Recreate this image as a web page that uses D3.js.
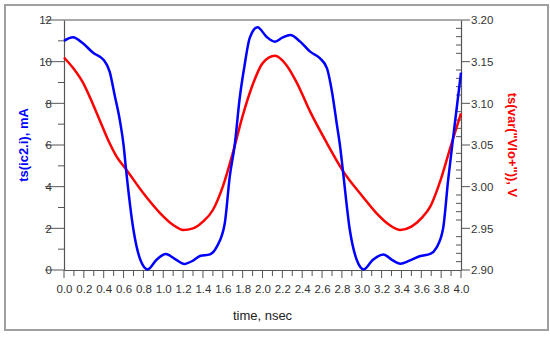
<!DOCTYPE html>
<html>
<head>
<meta charset="utf-8">
<script src="https://cdn.jsdelivr.net/npm/d3@7/dist/d3.min.js"></script>
<style>
html,body{margin:0;padding:0;background:#fff;}
svg{display:block;font-family:"Liberation Sans",Arial,sans-serif;}
</style>
</head>
<body>
<svg id="chart" width="550" height="337"></svg>
<script>
// ---- data ----
const currentTime = [0.00,0.09,0.19,0.30,0.40,0.46,0.51,0.565,0.60,0.625,0.70,0.77,0.843,0.93,1.025,1.12,1.21,1.30,1.37,1.47,1.54,1.62,1.67,1.72,1.77,1.82,1.87,1.95,2.04,2.125,2.20,2.28,2.38,2.48,2.58,2.65,2.70,2.75,2.78,2.81,2.88,2.95,3.02,3.11,3.22,3.30,3.39,3.48,3.59,3.69,3.75,3.82,3.87,3.93,4.00];
const currentValues = [11.00,11.17,10.88,10.40,10.08,9.52,8.40,7.12,6.00,4.83,1.92,0.48,0.03,0.48,0.77,0.52,0.29,0.45,0.67,0.75,1.12,2.24,4.48,6.00,8.24,9.84,11.12,11.65,11.20,10.96,11.15,11.28,10.96,10.48,10.16,9.68,8.56,6.96,6.00,4.77,1.92,0.48,0.03,0.48,0.75,0.50,0.30,0.45,0.67,0.77,1.05,2.00,4.30,6.72,9.47];
const voltageTime = [0.00,0.094,0.195,0.295,0.38,0.46,0.53,0.625,0.80,0.97,1.10,1.20,1.30,1.40,1.50,1.60,1.70,1.80,1.90,2.00,2.125,2.24,2.34,2.48,2.65,2.81,3.01,3.15,3.28,3.39,3.50,3.60,3.69,3.80,3.90,4.00];
const voltageValues = [3.155,3.142,3.124,3.098,3.074,3.052,3.036,3.021,2.992,2.968,2.954,2.948,2.950,2.958,2.972,3.000,3.040,3.085,3.122,3.148,3.157,3.146,3.126,3.090,3.052,3.019,2.988,2.968,2.954,2.948,2.952,2.962,2.976,3.010,3.050,3.088];
const xTicks = d3.range(0, 21).map(i => i * 0.2);
const leftTicks = [0,2,4,6,8,10,12];
const rightTicks = [2.90,2.95,3.00,3.05,3.10,3.15,3.20];
const xTitle = "time, nsec";
const leftTitle = "ts(ic2.i), mA";
const rightTitle = "ts(var(\"Vlo+\")), V";

// ---- layout ----
const svg = d3.select("#chart");
const L = 64, R = 461, T = 20, B = 270;
const axisColor = "#555";

svg.append("rect").attr("x",5).attr("y",5).attr("width",543).attr("height",325)
  .attr("fill","none").attr("stroke","#a0a0a0").attr("stroke-width",2);

const x = d3.scaleLinear().domain([0,4]).range([L,R]);
const yL = d3.scaleLinear().domain([0,12]).range([B,T]);
const yR = d3.scaleLinear().domain([2.90,3.20]).range([B,T]);

// top border
svg.append("line").attr("x1",L).attr("x2",R).attr("y1",T).attr("y2",T)
  .attr("stroke",axisColor).attr("stroke-width",1.2);

const g = svg.append("g");
// x ticks every 0.1
d3.range(0,41).forEach(i=>{
  const xv = x(i*0.1);
  g.append("line").attr("x1",xv).attr("x2",xv).attr("y1",B).attr("y2",B+ (i%2===0?8:6))
   .attr("stroke",axisColor).attr("stroke-width",1);
});
// left ticks every 1
d3.range(0,13).forEach(v=>{
  g.append("line").attr("x1",L-(v%2===0?19:6)).attr("x2",L).attr("y1",yL(v)).attr("y2",yL(v))
   .attr("stroke",axisColor).attr("stroke-width",1);
});
// right ticks every 0.01 (minor inward), major outward
d3.range(0,31).forEach(i=>{
  const v = 2.90 + i*0.01;
  const major = i%5===0;
  g.append("line").attr("x1",major?R:R-5).attr("x2",major?R+9:R).attr("y1",yR(v)).attr("y2",yR(v))
   .attr("stroke",axisColor).attr("stroke-width",1);
});

// axes via d3
const xAxis = svg.append("g").attr("transform",`translate(0,${B})`)
  .call(d3.axisBottom(x).tickValues(xTicks).tickFormat(d3.format(".1f")).tickSize(0).tickPadding(15));
const leftAxis = svg.append("g").attr("transform",`translate(${L},0)`)
  .call(d3.axisLeft(yL).tickValues(leftTicks).tickFormat(d3.format("d")).tickSize(0).tickPadding(12));
const rightAxis = svg.append("g").attr("transform",`translate(${R},0)`)
  .call(d3.axisRight(yR).tickValues(rightTicks).tickFormat(d3.format(".2f")).tickSize(0).tickPadding(10));
[xAxis,leftAxis,rightAxis].forEach(a=>{
  a.select(".domain").attr("stroke",axisColor).attr("stroke-width",1.2);
  a.selectAll("text").attr("font-size",11.5).attr("fill","#333")
   .attr("font-family","'Liberation Sans',Arial,sans-serif");
});

// lines
const lineL = d3.line().x(d=>x(d[0])).y(d=>yL(d[1])).curve(d3.curveMonotoneX);
const lineR = d3.line().x(d=>x(d[0])).y(d=>yR(d[1])).curve(d3.curveMonotoneX);
const redData = voltageTime.map((t,i)=>[t,voltageValues[i]]);
const blueData = currentTime.map((t,i)=>[t,currentValues[i]]);
svg.append("path").datum(redData).attr("d",lineR).attr("fill","none")
  .attr("stroke","#ff0000").attr("stroke-width",2.5).attr("stroke-linejoin","round");
svg.append("path").datum(blueData).attr("d",lineL).attr("fill","none")
  .attr("stroke","#0000ff").attr("stroke-width",2.5).attr("stroke-linejoin","round");

// titles
svg.append("text").attr("x",(L+R)/2).attr("y",320).attr("text-anchor","middle")
  .attr("font-size",13).attr("fill","#222").text(xTitle);
svg.append("text").attr("transform","translate(28,145) rotate(-90)").attr("text-anchor","middle")
  .attr("font-size",13).attr("font-weight","bold").attr("fill","#0000ff").text(leftTitle);
svg.append("text").attr("transform","translate(508,145) rotate(90)").attr("text-anchor","middle")
  .attr("font-size",13).attr("font-weight","bold").attr("fill","#ff0000").text(rightTitle);
</script>
</body>
</html>
